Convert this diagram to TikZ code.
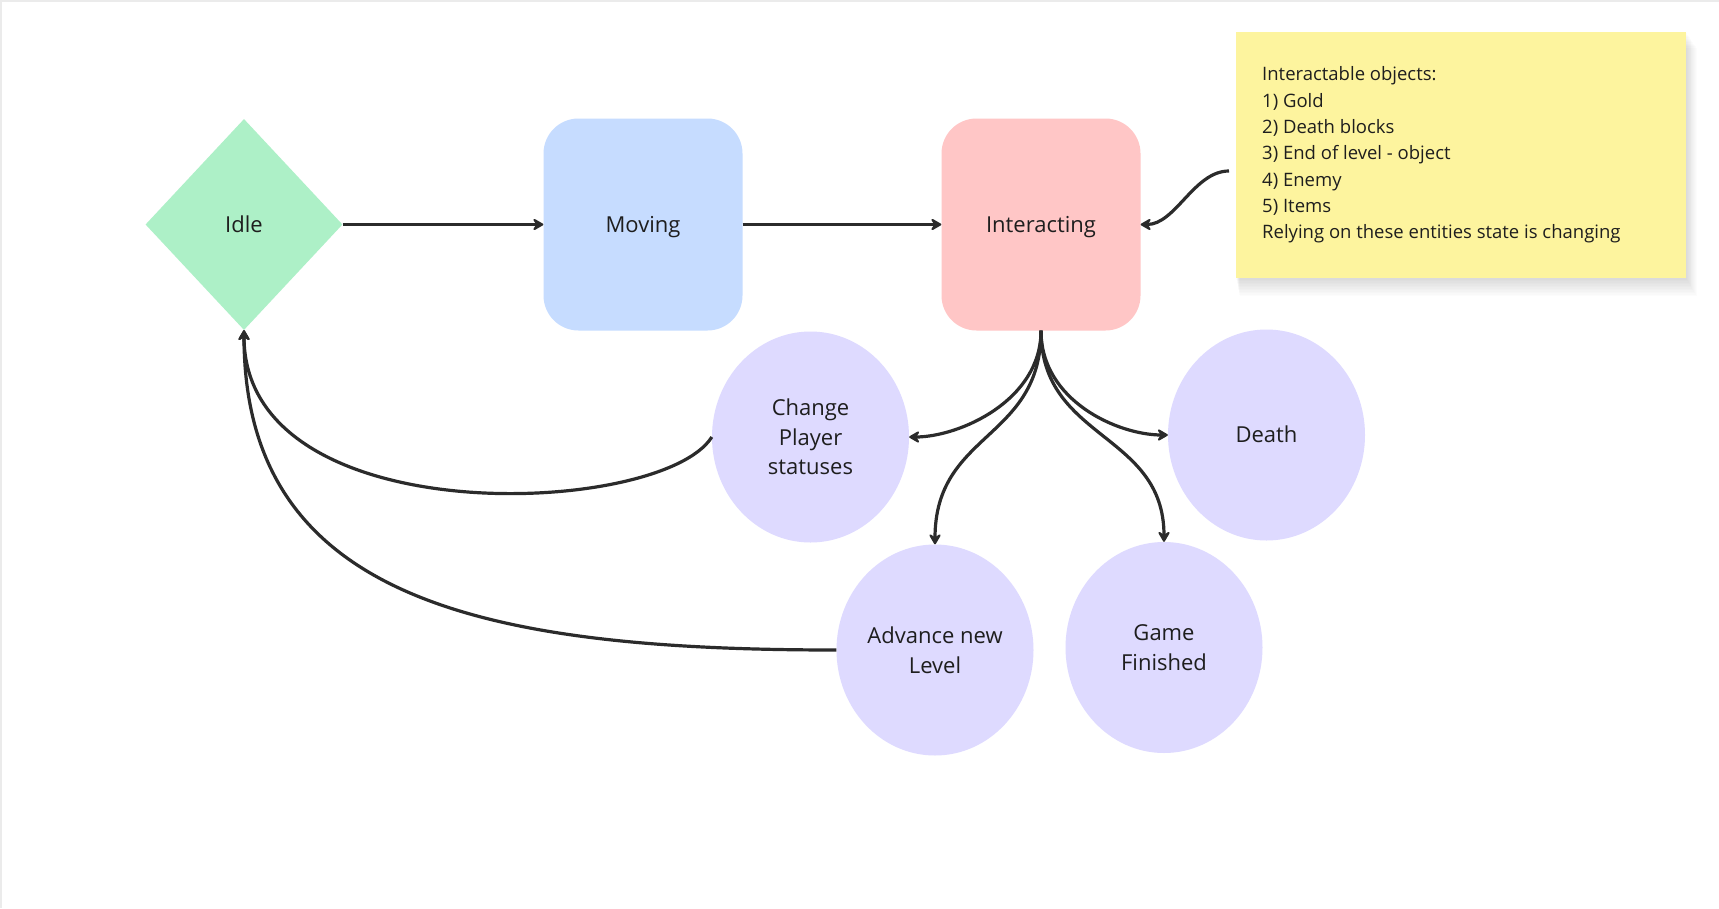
\documentclass[tikz,border=0pt]{standalone}
\usepackage{fontspec}
\setmainfont{Open Sans}
\usetikzlibrary{shapes.geometric,arrows.meta}
\definecolor{idlec}{HTML}{ADF0C7}
\definecolor{movc}{HTML}{C6DCFF}
\definecolor{intc}{HTML}{FFC6C6}
\definecolor{ellc}{HTML}{DEDAFF}
\definecolor{stkc}{HTML}{FDF49E}
\definecolor{linec}{HTML}{2B2B2B}
\definecolor{txtc}{HTML}{1E1E1E}
\definecolor{framec}{HTML}{EBEBEB}
\tikzset{
  lbl/.style={text=txtc, font=\fontsize{22}{29.5}\selectfont, align=center, inner sep=0pt},
  oneline/.style={text height=15.7pt, text depth=0pt},
  boxnode/.style={lbl, oneline, rectangle, rounded corners=35pt, minimum width=199pt, minimum height=212pt},
  statenode/.style={lbl, ellipse, fill=ellc, minimum width=197pt, minimum height=211pt},
  conn/.style={draw=linec, line width=3.2pt, -{Stealth[length=13pt,width=15pt,inset=5pt,round]}}
}
\begin{document}
\begin{tikzpicture}[x=1pt,y=-1pt]
\useasboundingbox (0,0) rectangle (1719,908);
\fill[white] (0,0) rectangle (1719,908);
\draw[framec, line width=2pt] (1,908) -- (1,1) -- (1719,1);
% sticky shadow
\foreach \i in {1,...,12}{
  \fill[black, opacity=0.012] (1236+\i*0.3,32+\i*1.3) rectangle (1686+\i*0.9,278+\i*1.5);
}
\node[rectangle, fill=stkc, minimum width=450pt, minimum height=246pt, inner sep=0pt, anchor=north west] (sticky) at (1236,32) {};
\node[text=txtc, font=\fontsize{18.5}{26.3}\selectfont, align=left, inner sep=0pt, anchor=west] (stktext) at (1262,155) {Interactable objects:\\1) Gold\\2) Death blocks\\3) End of level - object\\4) Enemy\\5) Items\\Relying on these entities state is changing};
\coordinate (stk) at (1229,171);

\node[lbl, oneline, diamond, fill=idlec, minimum width=197pt, minimum height=211pt] (idle) at (244,224.5) {Idle};
\node[boxnode, fill=movc] (moving) at (643,224.5) {Moving};
\node[boxnode, fill=intc] (inter) at (1041,224.5) {Interacting};

\node[statenode] (chg) at (810.5,437) {Change\\Player\\statuses};
\node[statenode, oneline] (death) at (1266.5,435) {Death};
\node[statenode] (adv) at (935,650) {Advance new\\Level};
\node[statenode] (game) at (1164,647.5) {Game\\Finished};

\draw[conn] (idle.east) -- (moving.west);
\draw[conn] (moving.east) -- (inter.west);
\draw[conn] (stk) .. controls +(-35,0) and +(35,0) .. (inter.east);
\draw[conn] (inter.south) .. controls +(0,70) and +(50,0) .. (chg.east);
\draw[conn] (inter.south) .. controls +(0,70) and +(-50,0) .. (death.west);
\draw[conn] (inter.south) .. controls +(0,110) and +(0,-113) .. (adv.north);
\draw[conn] (inter.south) .. controls +(0,110) and +(0,-110) .. (game.north);
\draw[conn] (chg.west) .. controls +(-50,80) and +(0,205) .. (idle.south);
\draw[conn] (adv.west) .. controls +(-357,0) and +(0,268) .. (idle.south);
\end{tikzpicture}
\end{document}
